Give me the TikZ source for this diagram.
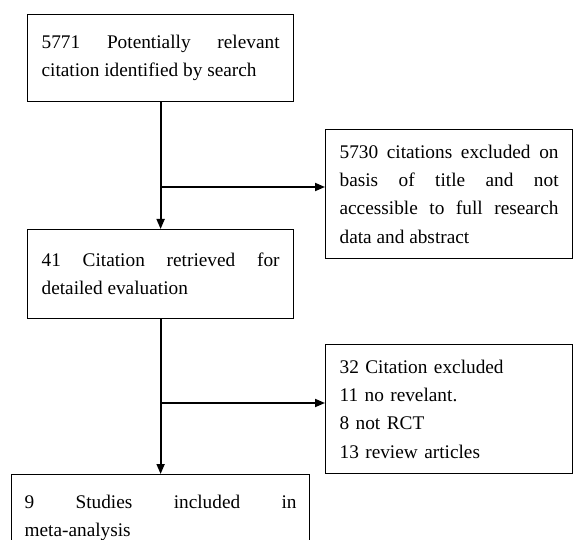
\documentclass[tikz,border=0pt]{standalone}
\usepackage{fontspec}
\setmainfont{Liberation Serif}
\usetikzlibrary{arrows.meta,positioning}

\begin{document}
\begin{tikzpicture}[x=1pt, y=-1pt, >={Triangle[length=10pt,width=8pt]}, line width=1.8pt,
    caja/.style={draw, line width=1.2pt, anchor=north west, inner xsep=14pt, inner ysep=0pt, align=justify, font=\fontsize{19.3}{28.3}\selectfont}]
    \useasboundingbox (0,0) rectangle (573,540);
    \clip (0,0) rectangle (573,540);

    % Cajas del flujo principal
    \node[caja, minimum width=266pt, minimum height=87pt, text width=238pt] (busq) at (27,14) {5771 Potentially relevant\linebreak citation identified by search};
    \node[caja, minimum width=266pt, minimum height=89pt, text width=238pt] (recup) at (27,229) {41 Citation retrieved for\linebreak detailed evaluation};
    \node[caja, minimum width=298pt, minimum height=87pt, text width=272pt, inner xsep=13pt] (incl) at (11,474) {9 Studies included in\linebreak meta-analysis};

    % Cajas de exclusiones
    \node[caja, minimum width=247pt, minimum height=129pt, text width=219pt] (excl1) at (325,129) {5730 citations excluded on\linebreak basis of title and not\linebreak accessible to full research\linebreak data and abstract};
    \node[caja, minimum width=247pt, minimum height=129pt, text width=219pt, align=left] (excl2) at (325,344) {32 Citation excluded\\11 no revelant.\\8 not RCT\\13 review articles};

    % Flechas
    \coordinate (rama1) at (160,187);
    \coordinate (rama2) at (160,403);
    \draw[->] (busq.south) -- (recup.north);
    \draw[->] (rama1) -- (rama1 -| excl1.west);
    \draw[->] (recup.south) -- (incl.north);
    \draw[->] (rama2) -- (rama2 -| excl2.west);
\end{tikzpicture}
\end{document}
